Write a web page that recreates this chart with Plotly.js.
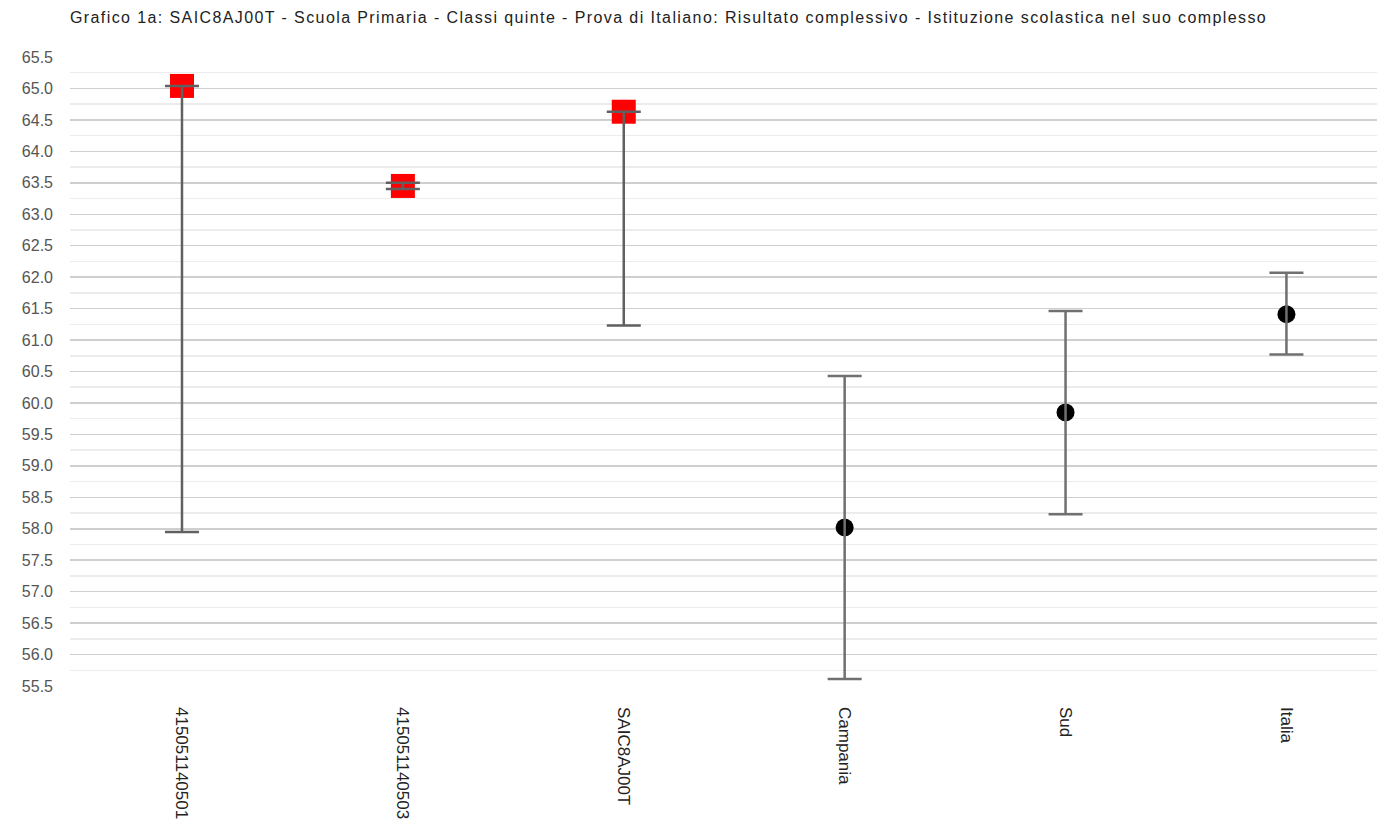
<!DOCTYPE html>
<html>
<head>
<meta charset="utf-8">
<script src="https://cdn.plot.ly/plotly-3.0.1.min.js"></script>
<style>html,body{margin:0;padding:0;background:#fff;}#chart{width:1377px;height:824px;}
.gtitle{letter-spacing:1.4px;}</style>
</head>
<body>
<div id="chart"></div>
<script>
const categories = ["415051140501", "415051140503", "SAIC8AJ00T", "Campania", "Sud", "Italia"];
const schoolCats = ["415051140501", "415051140503", "SAIC8AJ00T"];
const schoolValues = [65.04, 63.45, 64.63];
const schoolUpper = [65.04, 63.50, 64.63];
const schoolLower = [57.95, 63.40, 61.23];
const refCats = ["Campania", "Sud", "Italia"];
const refValues = [58.02, 59.85, 61.41];
const refUpper = [60.43, 61.46, 62.07];
const refLower = [55.61, 58.23, 60.77];
const titleText = "Grafico 1a: SAIC8AJ00T - Scuola Primaria - Classi quinte - Prova di Italiano: Risultato complessivo - Istituzione scolastica nel suo complesso";

const plus = (v, u) => v.map((x, i) => +(u[i] - x).toFixed(3));
const minus = (v, l) => v.map((x, i) => +(x - l[i]).toFixed(3));

function errTrace(cats, vals, up, lo, col) {
  return {
    type: 'scatter', mode: 'markers', x: cats, y: vals,
    marker: {size: 1, color: 'rgba(0,0,0,0)'},
    error_y: {type: 'data', symmetric: false, array: plus(vals, up), arrayminus: minus(vals, lo),
              color: col, thickness: 2.5, width: 17},
    hoverinfo: 'skip', showlegend: false
  };
}

const data = [
  {type: 'scatter', mode: 'markers', x: schoolCats, y: schoolValues,
   marker: {symbol: 'square', size: 24, color: '#ff0000'}, showlegend: false},
  {type: 'scatter', mode: 'markers', x: refCats, y: refValues,
   marker: {symbol: 'circle', size: 18, color: '#000000'}, showlegend: false},
  errTrace(schoolCats, schoolValues, schoolUpper, schoolLower, '#606060'),
  errTrace(refCats, refValues, refUpper, refLower, '#707070')
];

const layout = {
  width: 1377, height: 824,
  margin: {l: 70, r: 0, t: 57, b: 138},
  paper_bgcolor: '#fff', plot_bgcolor: '#fff',
  font: {family: '"Liberation Sans", Arial, sans-serif', size: 16, color: '#555'},
  title: {text: titleText, x: 70 / 1377, xanchor: 'left', xref: 'container',
          y: 1 - 17 / 824, yanchor: 'middle', yref: 'container',
          font: {size: 16, color: '#222'}},
  xaxis: {type: 'category', categoryorder: 'array', categoryarray: categories,
          range: [-0.507, 5.41], tickangle: 90, ticks: '', showgrid: false, zeroline: false,
          showline: false, ticklabelstandoff: 20, tickfont: {size: 17, color: '#222'}},
  yaxis: {range: [55.5, 65.5], dtick: 0.5, tick0: 55.5, tickformat: '.1f', ticks: '',
          showgrid: true, gridcolor: '#cfcfcf', gridwidth: 1.5, zeroline: false, showline: false,
          ticklabelstandoff: 16, tickfont: {size: 16, color: '#555'},
          minor: {dtick: 0.25, tick0: 55.5, showgrid: true, gridcolor: '#ececec', gridwidth: 1.5}},
  showlegend: false
};

Plotly.newPlot('chart', data, layout, {displayModeBar: false, staticPlot: true});
</script>
</body>
</html>
